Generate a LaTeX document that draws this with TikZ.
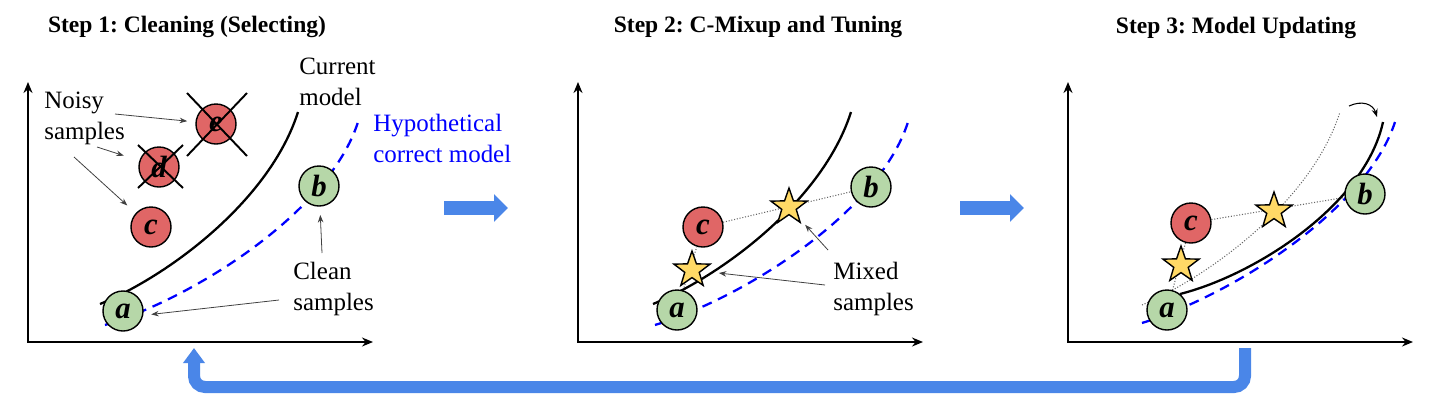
\documentclass[tikz,border=0pt]{standalone}
\usepackage{fontspec}
\setmainfont{Liberation Serif}
\usepackage{xcolor}
\usetikzlibrary{shapes.geometric, arrows.meta, positioning, calc, backgrounds}
\definecolor{noisyred}{HTML}{E06666}
\definecolor{cleangreen}{HTML}{B6D7A8}
\definecolor{mixyellow}{HTML}{FFD966}
\definecolor{flowblue}{HTML}{4A86E8}
\frenchspacing
\tikzset{
  sample/.style={circle, draw, line width=0.8pt, minimum size=8mm, inner sep=0pt, font=\fontsize{17.5}{17.5}\selectfont\bfseries\itshape},
  noisy/.style={sample, fill=noisyred},
  clean/.style={sample, fill=cleangreen},
  mixed/.style={star, star points=5, star point ratio=2.5, draw, line width=0.8pt, fill=mixyellow, minimum size=7.6mm, inner sep=0pt},
  model/.style={line width=1.3pt},
  truth/.style={line width=1.3pt, blue, dash pattern=on 2mm off 1.4mm},
  oldmodel/.style={densely dotted, line width=0.6pt, black!60},
  axis/.style={{Stealth[length=2.2mm,width=1.8mm]}-{Stealth[length=2.2mm,width=1.8mm]}, line width=0.9pt},
  note/.style={-{Stealth[length=1.5mm,width=1.1mm]}, line width=0.45pt, black!75},
  mixline/.style={densely dotted, line width=0.6pt, black!60},
  cross/.style={line width=1.1pt},
  bigarrow/.style={-{Triangle[length=2.8mm,width=5.4mm]}, line width=2.8mm, flowblue},
  loopback/.style={-{Triangle[length=3mm,width=4.2mm]}, line width=2.4mm, flowblue, rounded corners=2.2mm},
}

\begin{document}
\begin{tikzpicture}[x=0.2mm, y=-0.2mm,
  lbl/.style={align=left, inner sep=0pt, anchor=north west, font=\rmfamily\fontsize{14.2}{17.3}\selectfont},
  steptitle/.style={anchor=base, inner sep=0pt, font=\rmfamily\fontsize{13.4}{16}\selectfont\bfseries}
]
  \useasboundingbox (0,0) rectangle (1430,407);

  % Titles
  \node[steptitle] (title1) at (187,32) {Step 1: Cleaning (Selecting)};
  \node[steptitle] (title2) at (758,32) {Step 2: C-Mixup and Tuning};
  \node[steptitle] (title3) at (1236,33) {Step 3: Model Updating};

  % Step 1: cleaning
  \draw[axis] (28,82) |- (373,342);
  \draw[model] (100,304) .. controls (170,275) and (270,200) .. (298,112);
  \draw[truth] (105,325) .. controls (200,295) and (330,210) .. (358,122);

  \node[clean] (a1) at (123,311) {a};
  \node[clean] (b1) at (319,186) {b};
  \node[noisy] (c1) at (151,227) {c};
  \node[noisy] (d1) at (159,167) {d};
  \node[noisy] (e1) at (216,124) {e};
  \draw[cross] ([shift={(-21,-22)}]d1.center) -- ([shift={(24,21)}]d1.center);
  \draw[cross] ([shift={(-21,21)}]d1.center) -- ([shift={(24,-22)}]d1.center);
  \draw[cross] ([shift={(-29,-31)}]e1.center) -- ([shift={(31,32)}]e1.center);
  \draw[cross] ([shift={(-29,32)}]e1.center) -- ([shift={(31,-31)}]e1.center);

  \node[lbl] (noisytxt) at (44,92) {Noisy\\samples};
  \node[lbl] (currenttxt) at (299,58) {Current\\model};
  \node[lbl, text=blue] (hypotxt) at (373,114) {Hypothetical\\correct model};
  \node[lbl] (cleantxt) at (293,262) {Clean\\samples};

  \coordinate (n1) at (115,114);
  \coordinate (n2) at (97,147);
  \coordinate (n3) at (74,157);
  \coordinate (k1) at (322,253);
  \coordinate (k2) at (279,300);
  \draw[note, shorten >=5.8mm] (n1) -- (e1.center);
  \draw[note, shorten >=7.4mm] (n2) -- (d1.center);
  \draw[note, shorten >=6.4mm] (n3) -- (c1.center);
  \draw[note, shorten >=5.8mm] (k1) -- (b1.center);
  \draw[note, shorten >=1.6mm] (k2) -- (a1.-12);

  % Step 2: mixing
  \draw[axis] (578,82) |- (923,342);
  \draw[model] (653,304) .. controls (723,275) and (823,200) .. (851,112);
  \draw[truth] (655,325) .. controls (750,295) and (880,210) .. (908,122);

  \node[clean] (a2) at (677,310) {a};
  \node[clean] (b2) at (871,187) {b};
  \node[noisy] (c2) at (703,227) {c};
  \node[mixed] (s21) at (692,270) {};
  \node[mixed] (s22) at (789,207) {};
  \begin{scope}[on background layer]
    \draw[mixline] (a2) -- (c2);
    \draw[mixline] (c2) -- (b2);
  \end{scope}

  \node[lbl] (mixedtxt) at (833,262) {Mixed\\samples};
  \coordinate (m1) at (825,285);
  \coordinate (m2) at (828,250);
  \draw[note, shorten >=5.4mm] (m1) -- (s21.center);
  \draw[note, shorten >=4.8mm] (m2) -- (s22.center);

  % Step 3: updating
  \draw[axis] (1068,82) |- (1413,342);
  \draw[oldmodel] (1142,305) .. controls (1212,275) and (1312,200) .. (1340,112);
  \draw[model] (1180,294) .. controls (1255,275) and (1365,205) .. (1383,122);
  \draw[truth] (1142,323) .. controls (1237,293) and (1367,208) .. (1395,122);

  \node[clean] (a3) at (1167,310) {a};
  \node[clean] (b3) at (1365,194) {b};
  \node[noisy] (c3) at (1191,223) {c};
  \node[mixed] (s31) at (1181,265) {};
  \node[mixed] (s32) at (1274,211) {};
  \begin{scope}[on background layer]
    \draw[mixline] (a3) -- (c3);
    \draw[mixline] (c3) -- (b3);
  \end{scope}

  \coordinate (u1) at (1349,106);
  \coordinate (u2) at (1377,117);
  \draw[-{Stealth[length=1.6mm,width=1.2mm]}, line width=0.6pt] (u1) .. controls (1362,100) and (1373,104) .. (u2);

  % Flow arrows
  \coordinate (r1s) at (444,208);
  \coordinate (r1e) at (508,208);
  \coordinate (r2s) at (960,208);
  \coordinate (r2e) at (1024,208);
  \draw[bigarrow] (r1s) -- (r1e);
  \draw[bigarrow] (r2s) -- (r2e);

  \coordinate (fbs) at (1245,348);
  \coordinate (fbe) at (194,348);
  \draw[loopback] (fbs) -- ++(0,39) -| (fbe);
\end{tikzpicture}
\end{document}
